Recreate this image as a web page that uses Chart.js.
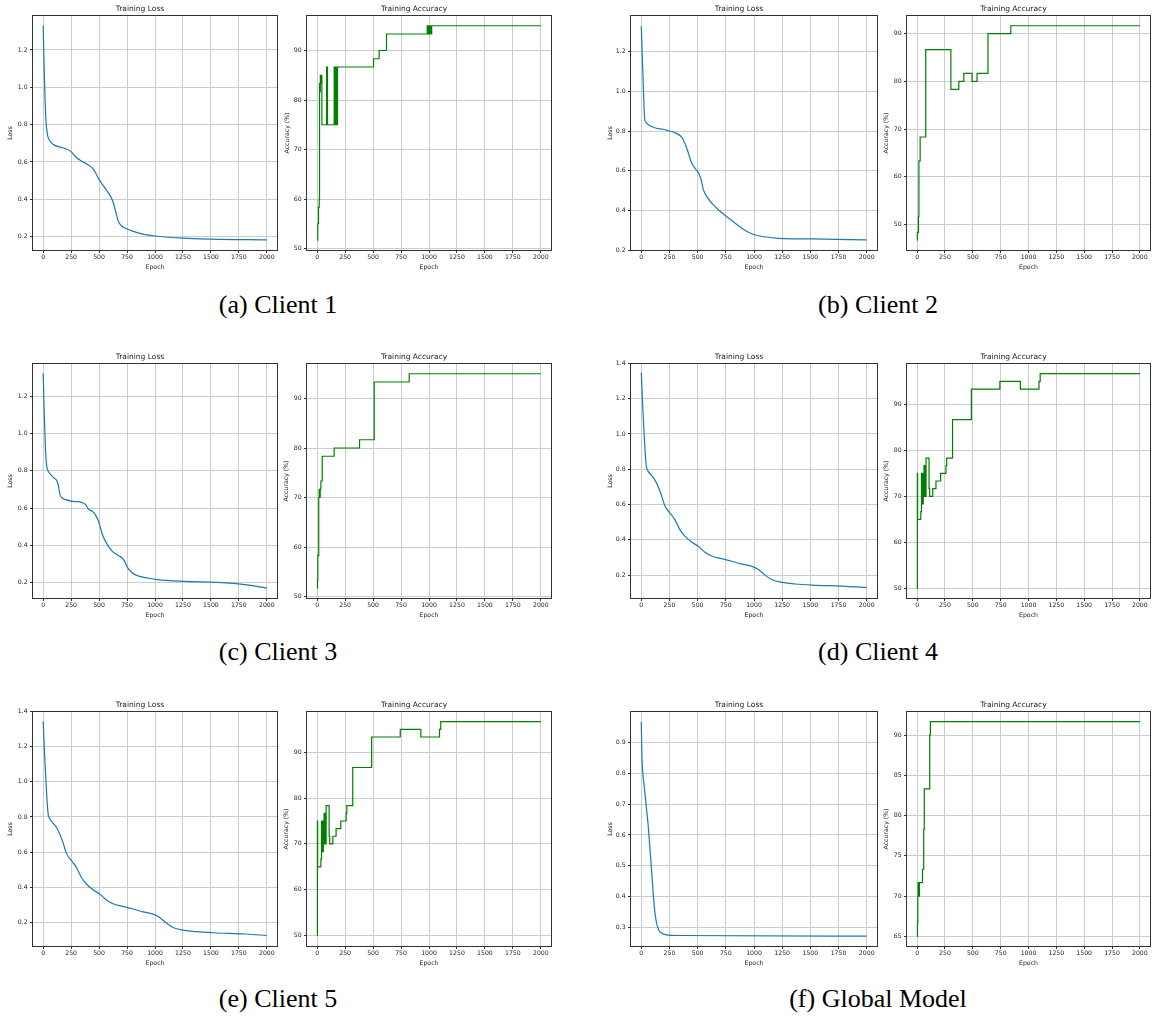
<!DOCTYPE html>
<html>
<head>
<meta charset="utf-8">
<script src="https://cdn.jsdelivr.net/npm/chart.js@4/dist/chart.umd.min.js"></script>
<style>
html,body{margin:0;padding:0;background:#fff;width:1152px;height:1017px;overflow:hidden;}
body{position:relative;}
canvas{position:absolute;}
.cap{position:absolute;font-family:"Liberation Serif","Times New Roman",serif;font-size:26px;line-height:1;color:#000;transform:translate(-50%,-50%);white-space:nowrap;}
</style>
</head>
<body>
<script>
// ---------------- DATA ----------------
const epochTicks = [0, 250, 500, 750, 1000, 1250, 1500, 1750, 2000];
const lossTicks = [0.2, 0.4, 0.6, 0.8, 1.0, 1.2];
const lossTicksWide = [0.2, 0.4, 0.6, 0.8, 1.0, 1.2, 1.4];
const lossTicksGlobal = [0.3, 0.4, 0.5, 0.6, 0.7, 0.8, 0.9];
const accTicks = [50, 60, 70, 80, 90];
const accTicksGlobal = [65, 70, 75, 80, 85, 90];

const captions = ['(a) Client 1', '(b) Client 2', '(c) Client 3', '(d) Client 4', '(e) Client 5', '(f) Global Model'];

// Client 1
const c1LossEpochs = [0, 8, 16, 25, 35, 45, 70, 100, 160, 215, 250, 300, 350, 400, 450, 500, 550, 600, 625, 650, 670, 700, 750, 800, 900, 1000, 1250, 1500, 2000];
const c1LossValues = [1.33, 1.12, 0.95, 0.82, 0.76, 0.73, 0.705, 0.69, 0.678, 0.668, 0.655, 0.622, 0.602, 0.585, 0.56, 0.505, 0.462, 0.418, 0.385, 0.33, 0.285, 0.258, 0.24, 0.229, 0.212, 0.203, 0.191, 0.186, 0.182];
const c1AccEpochs = [0, 5, 12, 18, 21, 26, 28, 31, 34, 42, 84, 92, 152, 155, 158, 161, 164, 167, 170, 173, 176, 179, 182, 504, 554, 620, 984, 988, 992, 996, 1000, 1004, 1008, 1012, 1016, 1020, 1024, 2000];
const c1AccValues = [51.67, 55, 58.33, 60, 83.33, 81.67, 85, 83.33, 85, 75, 86.67, 75, 86.67, 75, 86.67, 75, 86.67, 75, 86.67, 75, 86.67, 75, 86.67, 88.33, 90, 93.33, 95, 93.33, 95, 93.33, 95, 93.33, 95, 93.33, 95, 93.33, 95, 95];

// Client 2
const c2LossEpochs = [0, 15, 30, 40, 74, 134, 193, 238, 312, 357, 387, 417, 446, 476, 506, 530, 551, 580, 625, 699, 774, 848, 923, 997, 1071, 1220, 1518, 2000];
const c2LossValues = [1.327, 1.08, 0.862, 0.845, 0.828, 0.814, 0.809, 0.802, 0.788, 0.77, 0.738, 0.69, 0.64, 0.613, 0.59, 0.557, 0.505, 0.471, 0.437, 0.396, 0.362, 0.329, 0.299, 0.279, 0.269, 0.26, 0.257, 0.252];
const c2AccEpochs = [0, 2, 12, 16, 27, 77, 303, 374, 419, 493, 538, 636, 841, 2000];
const c2AccValues = [46.67, 48.33, 51.67, 63.33, 68.33, 86.67, 78.33, 80, 81.67, 80, 81.67, 90, 91.67, 91.67];

// Client 3
const c3LossEpochs = [0, 10, 20, 30, 42, 68, 98, 122, 134, 149, 164, 202, 262, 351, 381, 402, 440, 470, 500, 530, 574, 619, 679, 708, 729, 753, 798, 842, 932, 1021, 1259, 1557, 1705, 1854, 2000];
const c3LossValues = [1.323, 1.1, 0.92, 0.832, 0.802, 0.779, 0.761, 0.746, 0.725, 0.675, 0.657, 0.645, 0.636, 0.629, 0.618, 0.596, 0.582, 0.561, 0.52, 0.457, 0.404, 0.368, 0.343, 0.332, 0.314, 0.282, 0.252, 0.238, 0.225, 0.216, 0.207, 0.202, 0.196, 0.186, 0.171];
const c3AccEpochs = [0, 3, 6, 14, 18, 24, 27, 33, 45, 152, 379, 510, 823, 2000];
const c3AccValues = [51.67, 53.33, 58.33, 70, 71.67, 70, 71.67, 73.33, 78.33, 80, 81.67, 93.33, 95, 95];

// Client 4
const c4LossEpochs = [0, 15, 24, 36, 45, 60, 89, 119, 149, 179, 208, 253, 298, 342, 387, 446, 506, 565, 625, 714, 804, 893, 982, 1042, 1101, 1161, 1250, 1369, 1518, 1815, 2000];
const c4LossValues = [1.347, 1.129, 1.016, 0.883, 0.817, 0.789, 0.766, 0.741, 0.703, 0.652, 0.594, 0.552, 0.514, 0.457, 0.42, 0.387, 0.363, 0.329, 0.308, 0.293, 0.278, 0.262, 0.249, 0.23, 0.198, 0.173, 0.158, 0.149, 0.143, 0.136, 0.128];
const c4AccEpochs = [0, 2, 4, 33, 39, 42, 48, 51, 55, 58, 62, 66, 71, 75, 80, 107, 112, 140, 169, 211, 259, 265, 318, 487, 743, 927, 1094, 1105, 2000];
const c4AccValues = [50, 75, 65, 66.67, 75, 68.33, 75, 68.33, 75, 70, 76.67, 70, 76.67, 70, 78.33, 71.67, 70, 71.67, 73.33, 75, 76.67, 78.33, 86.67, 93.33, 95, 93.33, 95, 96.67, 96.67];

// Client 5
const c5LossEpochs = [0, 15, 24, 36, 45, 60, 89, 119, 149, 179, 208, 253, 298, 342, 387, 446, 506, 565, 625, 714, 804, 893, 982, 1042, 1101, 1161, 1250, 1369, 1518, 1815, 2000];
const c5LossValues = [1.342, 1.125, 1.012, 0.88, 0.815, 0.788, 0.765, 0.74, 0.702, 0.651, 0.593, 0.551, 0.513, 0.456, 0.419, 0.386, 0.362, 0.328, 0.307, 0.292, 0.277, 0.261, 0.248, 0.229, 0.197, 0.172, 0.157, 0.148, 0.142, 0.135, 0.126];
const c5AccEpochs = [0, 2, 4, 33, 39, 42, 48, 51, 55, 58, 62, 66, 71, 75, 80, 107, 112, 140, 169, 211, 259, 265, 318, 487, 743, 927, 1094, 1105, 2000];
const c5AccValues = [50, 75, 65, 66.67, 75, 68.33, 75, 68.33, 75, 70, 76.67, 70, 76.67, 70, 78.33, 71.67, 70, 71.67, 73.33, 75, 76.67, 78.33, 86.67, 93.33, 95, 93.33, 95, 96.67, 96.67];

// Global model
const gLossEpochs = [0, 6, 15, 30, 45, 60, 74, 89, 104, 119, 134, 155, 179, 223, 327, 2000];
const gLossValues = [0.967, 0.851, 0.797, 0.744, 0.69, 0.636, 0.571, 0.496, 0.42, 0.355, 0.317, 0.292, 0.282, 0.276, 0.274, 0.272];
const gAccEpochs = [0, 3, 6, 9, 11, 13, 15, 17, 19, 21, 48, 59, 64, 113, 119, 2000];
const gAccValues = [65, 66.67, 70, 71.67, 70, 71.67, 70, 71.67, 70, 71.67, 73.33, 78.33, 83.33, 90, 91.67, 91.67];

// ---------------- LAYOUT / STYLE ----------------
const FONT = '"DejaVu Sans", sans-serif';
const TEXT = '#222';
const GRID = '#cccccc';
const EDGE = '#333';
const PAD = {l: 30, t: 15, r: 8, b: 24};

const framePlugin = {
  id: 'frame',
  afterDraw(chart) {
    const a = chart.chartArea, ctx = chart.ctx;
    ctx.save();
    ctx.strokeStyle = EDGE;
    ctx.lineWidth = 1;
    const l = Math.round(a.left) + 0.5, t = Math.round(a.top) + 0.5;
    const r = Math.round(a.right) - 0.5, b = Math.round(a.bottom) - 0.5;
    ctx.strokeRect(l, t, r - l, b - t);
    ctx.restore();
  }
};

function pts(xs, ys) { return xs.map((x, i) => ({x: x, y: ys[i]})); }

function makeChart(p) {
  const w = p.R - p.L + PAD.l + PAD.r;
  const h = p.B - p.T + PAD.t + PAD.b;
  const cv = document.createElement('canvas');
  cv.width = w; cv.height = h;
  cv.style.left = (p.L - PAD.l) + 'px';
  cv.style.top = (p.T - PAD.t) + 'px';
  cv.style.width = w + 'px'; cv.style.height = h + 'px';
  document.body.appendChild(cv);
  const isAcc = p.kind === 'acc';
  const ds = {
    data: pts(p.xs, p.ys),
    borderColor: isAcc ? '#008000' : '#1f77b4',
    borderWidth: 1.2,
    pointRadius: 0,
    fill: false
  };
  if (isAcc) { ds.stepped = true; } else { ds.cubicInterpolationMode = 'monotone'; }
  new Chart(cv, {
    type: 'line',
    data: {datasets: [ds]},
    plugins: [framePlugin],
    options: {
      responsive: false,
      animation: false,
      devicePixelRatio: 1,
      events: [],
      layout: {padding: {left: 0, top: 0, right: PAD.r, bottom: 0}},
      plugins: {
        legend: {display: false},
        tooltip: {enabled: false},
        title: {
          display: true,
          text: isAcc ? 'Training Accuracy' : 'Training Loss',
          color: TEXT,
          font: {family: FONT, size: 7.5, weight: 'normal', lineHeight: 1.2},
          padding: {top: 4.8, bottom: 1.2}
        }
      },
      scales: {
        x: {
          type: 'linear', min: -100, max: 2100,
          afterBuildTicks: s => { s.ticks = epochTicks.map(v => ({value: v})); },
          afterFit: s => { s.height = PAD.b; },
          grid: {color: GRID, lineWidth: 1, drawTicks: true, tickLength: 2, tickColor: EDGE, tickWidth: 1},
          border: {display: false},
          ticks: {autoSkip: false, maxRotation: 0, minRotation: 0, padding: 1, color: TEXT,
                  font: {family: FONT, size: 6.2, lineHeight: 1.2}, callback: v => String(v)},
          title: {display: true, text: 'Epoch', color: TEXT,
                  font: {family: FONT, size: 6.2, lineHeight: 1.2}, padding: {top: 0, bottom: 4}}
        },
        y: {
          type: 'linear', min: p.yMin, max: p.yMax,
          afterBuildTicks: s => { s.ticks = p.yTicks.map(v => ({value: v})); },
          afterFit: s => { s.width = PAD.l; },
          grid: {color: GRID, lineWidth: 1, drawTicks: true, tickLength: 2, tickColor: EDGE, tickWidth: 1},
          border: {display: false},
          ticks: {autoSkip: false, padding: 2.4, color: TEXT,
                  font: {family: FONT, size: 6.2, lineHeight: 1.2},
                  callback: v => isAcc ? String(v) : Number(v).toFixed(1)},
          title: {display: true, text: isAcc ? 'Accuracy (%)' : 'Loss', color: TEXT,
                  font: {family: FONT, size: 6.2, lineHeight: 1.2},
                  padding: {top: PAD.l - p.d - 3.72, bottom: 0}}
        }
      }
    }
  });
}

const ROW_T = [15, 363, 711];
const H = 236;
const COLS = {
  lossL: {L: 32, R: 278}, accL: {L: 306, R: 552},
  lossR: {L: 630, R: 878}, accR: {L: 906, R: 1151}
};

const panels = [
  {kind: 'loss', col: 'lossL', row: 0, xs: c1LossEpochs, ys: c1LossValues, yMin: 0.1225, yMax: 1.3875, yTicks: lossTicks, d: 21.3},
  {kind: 'acc',  col: 'accL',  row: 0, xs: c1AccEpochs,  ys: c1AccValues,  yMin: 49.5,   yMax: 97.17,  yTicks: accTicks, d: 18.8},
  {kind: 'loss', col: 'lossR', row: 0, xs: c2LossEpochs, ys: c2LossValues, yMin: 0.196,  yMax: 1.384,  yTicks: lossTicks, d: 20},
  {kind: 'acc',  col: 'accR',  row: 0, xs: c2AccEpochs,  ys: c2AccValues,  yMin: 44.42,  yMax: 93.92,  yTicks: accTicks, d: 19.3},
  {kind: 'loss', col: 'lossL', row: 1, xs: c3LossEpochs, ys: c3LossValues, yMin: 0.1125, yMax: 1.3775, yTicks: lossTicks, d: 21.3},
  {kind: 'acc',  col: 'accL',  row: 1, xs: c3AccEpochs,  ys: c3AccValues,  yMin: 49.5,   yMax: 97.17,  yTicks: accTicks, d: 19.3},
  {kind: 'loss', col: 'lossR', row: 1, xs: c4LossEpochs, ys: c4LossValues, yMin: 0.064,  yMax: 1.402,  yTicks: lossTicksWide, d: 20},
  {kind: 'acc',  col: 'accR',  row: 1, xs: c4AccEpochs,  ys: c4AccValues,  yMin: 47.67,  yMax: 99.0,   yTicks: accTicks, d: 19.3},
  {kind: 'loss', col: 'lossL', row: 2, xs: c5LossEpochs, ys: c5LossValues, yMin: 0.061,  yMax: 1.402,  yTicks: lossTicksWide, d: 21.3},
  {kind: 'acc',  col: 'accL',  row: 2, xs: c5AccEpochs,  ys: c5AccValues,  yMin: 47.5,   yMax: 99.0,   yTicks: accTicks, d: 19.3},
  {kind: 'loss', col: 'lossR', row: 2, xs: gLossEpochs,  ys: gLossValues,  yMin: 0.2368, yMax: 1.0018, yTicks: lossTicksGlobal, d: 20},
  {kind: 'acc',  col: 'accR',  row: 2, xs: gAccEpochs,   ys: gAccValues,   yMin: 63.67,  yMax: 93.0,   yTicks: accTicksGlobal, d: 19.3}
];

panels.forEach(p => {
  const c = COLS[p.col];
  makeChart(Object.assign({}, p, {L: c.L, R: c.R, T: ROW_T[p.row], B: ROW_T[p.row] + H}));
});

const capPos = [[278, 305], [878, 305], [278, 652], [878, 652], [278, 999], [878, 999]];
captions.forEach((t, i) => {
  const d = document.createElement('div');
  d.className = 'cap';
  d.textContent = t;
  d.style.left = capPos[i][0] + 'px';
  d.style.top = capPos[i][1] + 'px';
  document.body.appendChild(d);
});
</script>
</body>
</html>
